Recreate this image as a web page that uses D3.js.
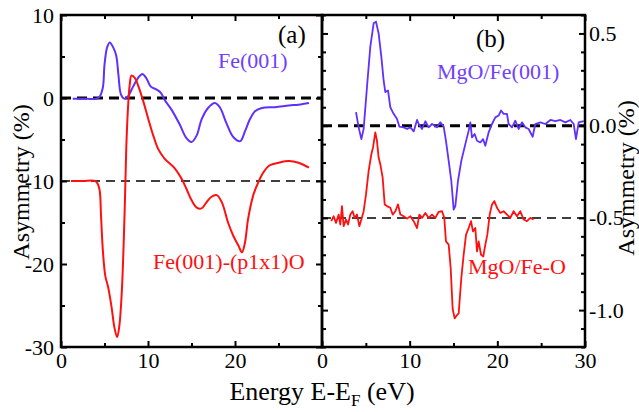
<!DOCTYPE html>
<html><head><meta charset="utf-8">
<script src="https://cdn.jsdelivr.net/npm/d3@7"></script>
<style>body{margin:0;background:#fff}svg{display:block}text{font-family:"Liberation Serif","Times New Roman",serif}</style>
</head><body><div id="chart"></div>
<script>
// Panel (a) Fe(001)
const aBlueE = [1.35,2.0,3.0,4.0,4.4,4.8,5.0,5.3,5.6,6.0,6.35,6.6,6.9,7.3,7.7,8.3,8.85,9.35,9.8,10.3,11.0,11.5,11.9,12.7,13.65,14.4,15.0,15.6,16.15,16.9,17.7,18.3,19.0,19.8,20.6,21.15,21.7,22.3,23.1,24.6,26.2,27.3,28.5];
const aBlueA = [-0.1,-0.1,-0.1,-0.1,0.1,1.2,4.0,6.1,6.7,6.1,5.1,2.8,0.4,-0.1,0.2,1.4,2.4,2.9,2.4,1.4,1.0,0.6,-0.2,-1.4,-3.2,-4.8,-5.3,-4.5,-2.6,-1.2,-0.6,-1.2,-3.0,-4.7,-5.2,-4.0,-2.6,-1.6,-1.2,-1.1,-0.9,-0.8,-0.6];
// Panel (a) Fe(001)-(p1x1)O
const aRedE = [1.15,2.5,4.0,4.4,4.6,4.8,5.1,5.4,5.8,6.15,6.45,6.7,7.0,7.3,7.5,7.7,7.9,8.1,8.5,8.9,9.4,10.0,10.6,11.15,11.9,13.1,13.85,14.4,15.0,15.6,16.15,16.7,17.3,17.9,18.5,19.2,19.8,20.4,20.8,21.15,21.5,22.1,22.7,23.3,24.0,25.0,26.2,27.3,28.5];
const aRedA = [-10,-10,-10.05,-10.9,-14.2,-18.2,-21.5,-22.7,-25.1,-27.7,-28.8,-27.5,-23.1,-14.2,-6.1,-1.2,1.6,2.7,2.4,1.4,-0.2,-2.4,-4.5,-6.1,-7.3,-8.5,-9.7,-10.9,-12.3,-13.2,-13.3,-12.6,-11.9,-11.7,-12.6,-15.0,-16.6,-17.8,-18.6,-17.4,-14.6,-11.7,-10.1,-8.9,-8.1,-7.8,-7.6,-7.8,-8.4];
// Panel (b) MgO/Fe(001)
const bBlueE = [3.88,4.18,4.49,4.75,5.13,5.51,5.89,6.16,6.46,6.77,7.03,7.22,7.53,7.79,8.17,8.56,8.82,9.32,9.70,10.08,10.46,10.84,11.03,11.41,11.79,12.17,12.55,13.12,13.50,13.88,14.14,14.45,14.75,15.02,15.21,15.51,15.89,16.35,16.73,16.92,17.11,17.41,17.68,18.06,18.37,18.63,19.01,19.39,19.77,20.15,20.42,20.72,21.10,21.29,21.67,22.05,22.43,22.81,23.19,23.57,24.03,24.33,24.90,25.48,26.05,26.62,27.19,27.76,28.33,28.71,28.97,29.28,29.85];
const bBlueA = [0.073,-0.009,-0.073,-0.018,0.209,0.427,0.555,0.564,0.5,0.373,0.245,0.182,0.191,0.1,0.064,0.036,-0.005,-0.009,-0.018,-0.009,-0.031,0.031,0.009,-0.018,0.024,-0.009,0.009,-0.009,0.018,-0.005,-0.082,-0.191,-0.3,-0.455,-0.436,-0.3,-0.191,-0.1,-0.027,0.018,-0.064,-0.045,-0.082,-0.091,-0.073,-0.109,-0.036,0.009,0.045,0.055,0.082,0.064,0.064,0.009,-0.009,0.027,-0.018,0.018,-0.009,-0.018,-0.06,0.009,0.018,0.009,0.031,0.024,0.031,0.018,0.031,0.009,-0.073,0.018,0.024];
// Panel (b) MgO/Fe-O
const bRedE = [1.06,1.33,1.60,1.90,2.09,2.28,2.47,2.74,2.97,3.23,3.50,3.73,3.99,4.26,4.49,4.75,5.02,5.32,5.63,5.82,6.08,6.27,6.46,6.65,6.92,7.15,7.41,7.79,8.06,8.37,8.67,8.94,9.32,9.70,10.08,10.46,10.84,11.10,11.41,11.79,12.17,12.55,12.93,13.31,13.69,13.95,14.14,14.45,14.68,14.90,15.13,15.40,15.59,15.89,16.16,16.43,16.73,17.00,17.22,17.49,17.68,17.87,18.14,18.40,18.63,18.86,19.13,19.39,19.66,19.96,20.34,20.72,21.10,21.48,21.86,22.24,22.62,23.00,23.38,23.76,24.14];
const bRedA = [-0.518,-0.491,-0.527,-0.482,-0.536,-0.436,-0.545,-0.509,-0.536,-0.482,-0.464,-0.5,-0.482,-0.545,-0.509,-0.464,-0.373,-0.245,-0.155,-0.118,-0.036,-0.082,-0.173,-0.209,-0.282,-0.427,-0.436,-0.445,-0.482,-0.464,-0.427,-0.482,-0.491,-0.504,-0.491,-0.518,-0.555,-0.482,-0.5,-0.473,-0.5,-0.482,-0.5,-0.467,-0.464,-0.5,-0.627,-0.645,-0.773,-0.991,-1.045,-1.027,-1.018,-0.827,-0.7,-0.591,-0.555,-0.518,-0.573,-0.555,-0.682,-0.627,-0.7,-0.709,-0.645,-0.591,-0.482,-0.427,-0.409,-0.445,-0.473,-0.464,-0.482,-0.5,-0.464,-0.491,-0.464,-0.509,-0.518,-0.5,-0.509];

const aXTicks = [0,10,20];
const bXTicks = [0,10,20,30];
const xMinor = [5,15,25];
const aYTicks = [10,0,-10,-20,-30];
const aYMinor = [5,-5,-15,-25];
const bYTicks = [0.5,0.0,-0.5,-1.0];
const bYMinor = [0.6,0.4,0.3,0.2,0.1,-0.1,-0.2,-0.3,-0.4,-0.6,-0.7,-0.8,-0.9,-1.1,-1.2];

const W = 639, H = 412;
const blue = "#6030ff", red = "#ff1010", blueText = "#7040ff";
const svg = d3.select("#chart").append("svg").attr("width", W).attr("height", H);

const yTop = 15, yBot = 347;
const xa = d3.scaleLinear().domain([0,30]).range([61,322]);
const xb = d3.scaleLinear().domain([0,30]).range([322,585]);
const ya = d3.scaleLinear().domain([10,-30]).range([yTop,yBot]);
const yb = d3.scaleLinear().domain([0.6,-1.2]).range([yTop,yBot]);

function axisG(axis, tx, ty) {
  const g = svg.append("g").attr("transform", `translate(${tx},${ty})`).call(axis);
  g.select(".domain").remove();
  g.selectAll(".tick line").attr("stroke", "#000").attr("stroke-width", 2);
  g.selectAll("text").attr("font-size", 22).attr("font-family", "Liberation Serif").attr("fill", "#000");
  return g;
}
const fmtA = d => String(d);
const fmtB = d => d.toFixed(1);

// Panel a axes
axisG(d3.axisBottom(xa).tickValues(aXTicks).tickSize(-6).tickPadding(5).tickFormat(fmtA), 0, yBot);
axisG(d3.axisBottom(xa).tickValues(xMinor).tickSize(-4).tickFormat(""), 0, yBot);
axisG(d3.axisTop(xa).tickValues(aXTicks.concat([30])).tickSize(-6).tickFormat(""), 0, yTop);
axisG(d3.axisTop(xa).tickValues(xMinor).tickSize(-4).tickFormat(""), 0, yTop);
axisG(d3.axisLeft(ya).tickValues(aYTicks).tickSize(-6).tickPadding(7).tickFormat(fmtA), 61, 0);
axisG(d3.axisLeft(ya).tickValues(aYMinor).tickSize(-4).tickFormat(""), 61, 0);
axisG(d3.axisRight(ya).tickValues(aYTicks).tickSize(-6).tickFormat(""), 322, 0);
axisG(d3.axisRight(ya).tickValues(aYMinor).tickSize(-4).tickFormat(""), 322, 0);

// Panel b axes
axisG(d3.axisBottom(xb).tickValues(bXTicks).tickSize(-6).tickPadding(5).tickFormat(fmtA), 0, yBot);
axisG(d3.axisBottom(xb).tickValues(xMinor).tickSize(-4).tickFormat(""), 0, yBot);
axisG(d3.axisTop(xb).tickValues(bXTicks).tickSize(-6).tickFormat(""), 0, yTop);
axisG(d3.axisTop(xb).tickValues(xMinor).tickSize(-4).tickFormat(""), 0, yTop);
axisG(d3.axisRight(yb).tickValues(bYTicks).tickSize(-6).tickPadding(4).tickFormat(fmtB), 585, 0);
axisG(d3.axisRight(yb).tickValues(bYMinor).tickSize(-4).tickFormat(""), 585, 0);
axisG(d3.axisLeft(yb).tickValues(bYTicks).tickSize(-6).tickFormat(""), 322, 0);
axisG(d3.axisLeft(yb).tickValues(bYMinor).tickSize(-4).tickFormat(""), 322, 0);

// reference dashed lines
function hline(x0, x1, y, w, dash) {
  svg.append("line").attr("x1", x0).attr("x2", x1).attr("y1", y).attr("y2", y)
    .attr("stroke", "#000").attr("stroke-width", w).attr("stroke-dasharray", dash);
}
hline(xa(0), xa(30), ya(0), 3, "10,6");
hline(xa(0), xa(30), ya(-10), 1.5, "9,6");
hline(xb(0), xb(30), yb(0), 3, "10,6");
hline(xb(0), xb(30), yb(-0.5), 1.5, "9,6");

// curves
function curve(E, A, xs, ys, color, cv, w) {
  const pts = E.map((e, i) => [e, A[i]]);
  svg.append("path").datum(pts)
    .attr("d", d3.line().x(d => xs(d[0])).y(d => ys(d[1])).curve(cv))
    .attr("fill", "none").attr("stroke", color).attr("stroke-width", w).attr("stroke-linejoin", "round");
}
curve(aBlueE, aBlueA, xa, ya, blue, d3.curveCatmullRom, 2);
curve(aRedE, aRedA, xa, ya, red, d3.curveCatmullRom, 2);
curve(bBlueE, bBlueA, xb, yb, blue, d3.curveLinear, 1.8);
curve(bRedE, bRedA, xb, yb, red, d3.curveLinear, 1.8);

// frames
svg.append("rect").attr("x", 61).attr("y", yTop).attr("width", 322-61).attr("height", yBot-yTop)
  .attr("fill", "none").attr("stroke", "#000").attr("stroke-width", 2.5);
svg.append("rect").attr("x", 322).attr("y", yTop).attr("width", 585-322).attr("height", yBot-yTop)
  .attr("fill", "none").attr("stroke", "#000").attr("stroke-width", 2.5);

// text labels
function txt(x, y, s, size, color, anchor) {
  return svg.append("text").attr("x", x).attr("y", y).attr("font-size", size)
    .attr("fill", color).attr("text-anchor", anchor || "start").text(s);
}
txt(278, 43, "(a)", 25, "#000");
txt(218, 68, "Fe(001)", 22, blueText);
txt(153, 269, "Fe(001)-(p1x1)O", 22, red);
txt(476, 47, "(b)", 25, "#000");
txt(437, 79, "MgO/Fe(001)", 22, blueText);
txt(468, 274, "MgO/Fe-O", 22, red);

// axis titles
svg.append("text").attr("transform", "translate(29,182) rotate(-90)").attr("text-anchor", "middle")
  .attr("font-size", 24).attr("fill", "#000").text("Asymmetry (%)");
svg.append("text").attr("transform", "translate(634,178) rotate(-90)").attr("text-anchor", "middle")
  .attr("font-size", 24).attr("fill", "#000").text("Asymmetry (%)");
const xt = svg.append("text").attr("x", 322).attr("y", 400).attr("text-anchor", "middle")
  .attr("font-size", 26).attr("fill", "#000");
xt.append("tspan").text("Energy E-E");
xt.append("tspan").attr("font-size", 17).attr("dy", 6).text("F");
xt.append("tspan").attr("dy", -6).text(" (eV)");
</script></body></html>
